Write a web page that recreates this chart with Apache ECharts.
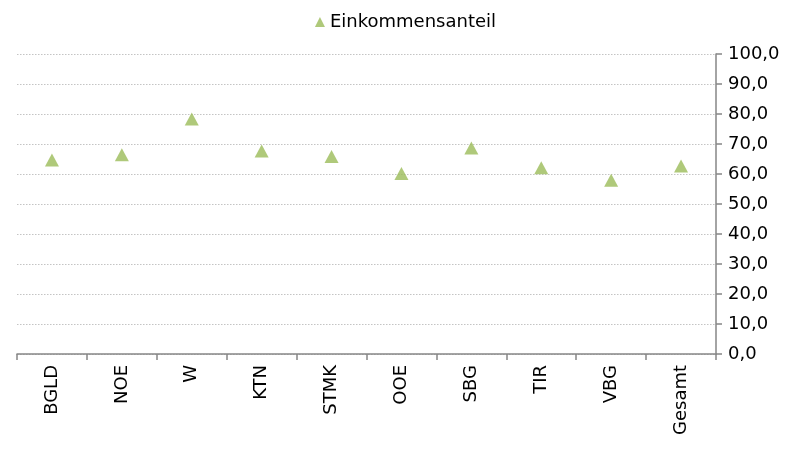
<!DOCTYPE html>
<html>
<head>
<meta charset="utf-8">
<script src="https://cdn.jsdelivr.net/npm/echarts@6/dist/echarts.min.js"></script>
<style>
  html, body { margin: 0; padding: 0; background: #fff; }
  #chart { width: 811px; height: 452px; }
</style>
</head>
<body>
<div id="chart"></div>
<script>
  const categories = ['BGLD', 'NOE', 'W', 'KTN', 'STMK', 'OOE', 'SBG', 'TIR', 'VBG', 'Gesamt']
  const einkommensanteil = [64.7, 66.4, 78.3, 67.7, 65.8, 60.2, 68.7, 62.1, 57.9, 62.7]
  const seriesName = 'Einkommensanteil'

  const fontFamily = '"DejaVu Sans", sans-serif'
  const chart = echarts.init(document.getElementById('chart'))

  chart.setOption({
    animation: false,
    legend: {
      top: 8,
      left: 'center',
      itemWidth: 10,
      itemHeight: 10,
      itemGap: 6,
      textStyle: { fontFamily, fontSize: 18, color: '#000' },
      data: [{ name: seriesName, icon: 'triangle' }]
    },
    grid: {
      left: 17,
      right: 95,
      top: 54,
      bottom: 98
    },
    xAxis: {
      type: 'category',
      data: categories,
      axisLine: { lineStyle: { color: '#868686', width: 1.5 } },
      axisTick: { show: true, length: 6, lineStyle: { color: '#868686', width: 1.5 } },
      axisLabel: {
        rotate: 90,
        interval: 0,
        margin: 11,
        fontFamily,
        fontSize: 18,
        color: '#000'
      }
    },
    yAxis: {
      type: 'value',
      position: 'right',
      min: 0,
      max: 100,
      interval: 10,
      axisLine: { show: true, lineStyle: { color: '#868686', width: 1.5 } },
      axisTick: { show: true, length: 6, lineStyle: { color: '#868686', width: 1.5 } },
      axisLabel: {
        margin: 12,
        fontFamily,
        fontSize: 18,
        color: '#000',
        formatter: (v) => v.toFixed(1).replace('.', ',')
      },
      splitLine: {
        lineStyle: { color: '#c4c4c4', type: [1.5, 1.5], width: 1.2 }
      }
    },
    series: [
      {
        name: seriesName,
        type: 'scatter',
        symbol: 'triangle',
        symbolSize: [14, 13],
        itemStyle: { color: '#9bbb59' },
        data: einkommensanteil
      }
    ]
  })
</script>
</body>
</html>
